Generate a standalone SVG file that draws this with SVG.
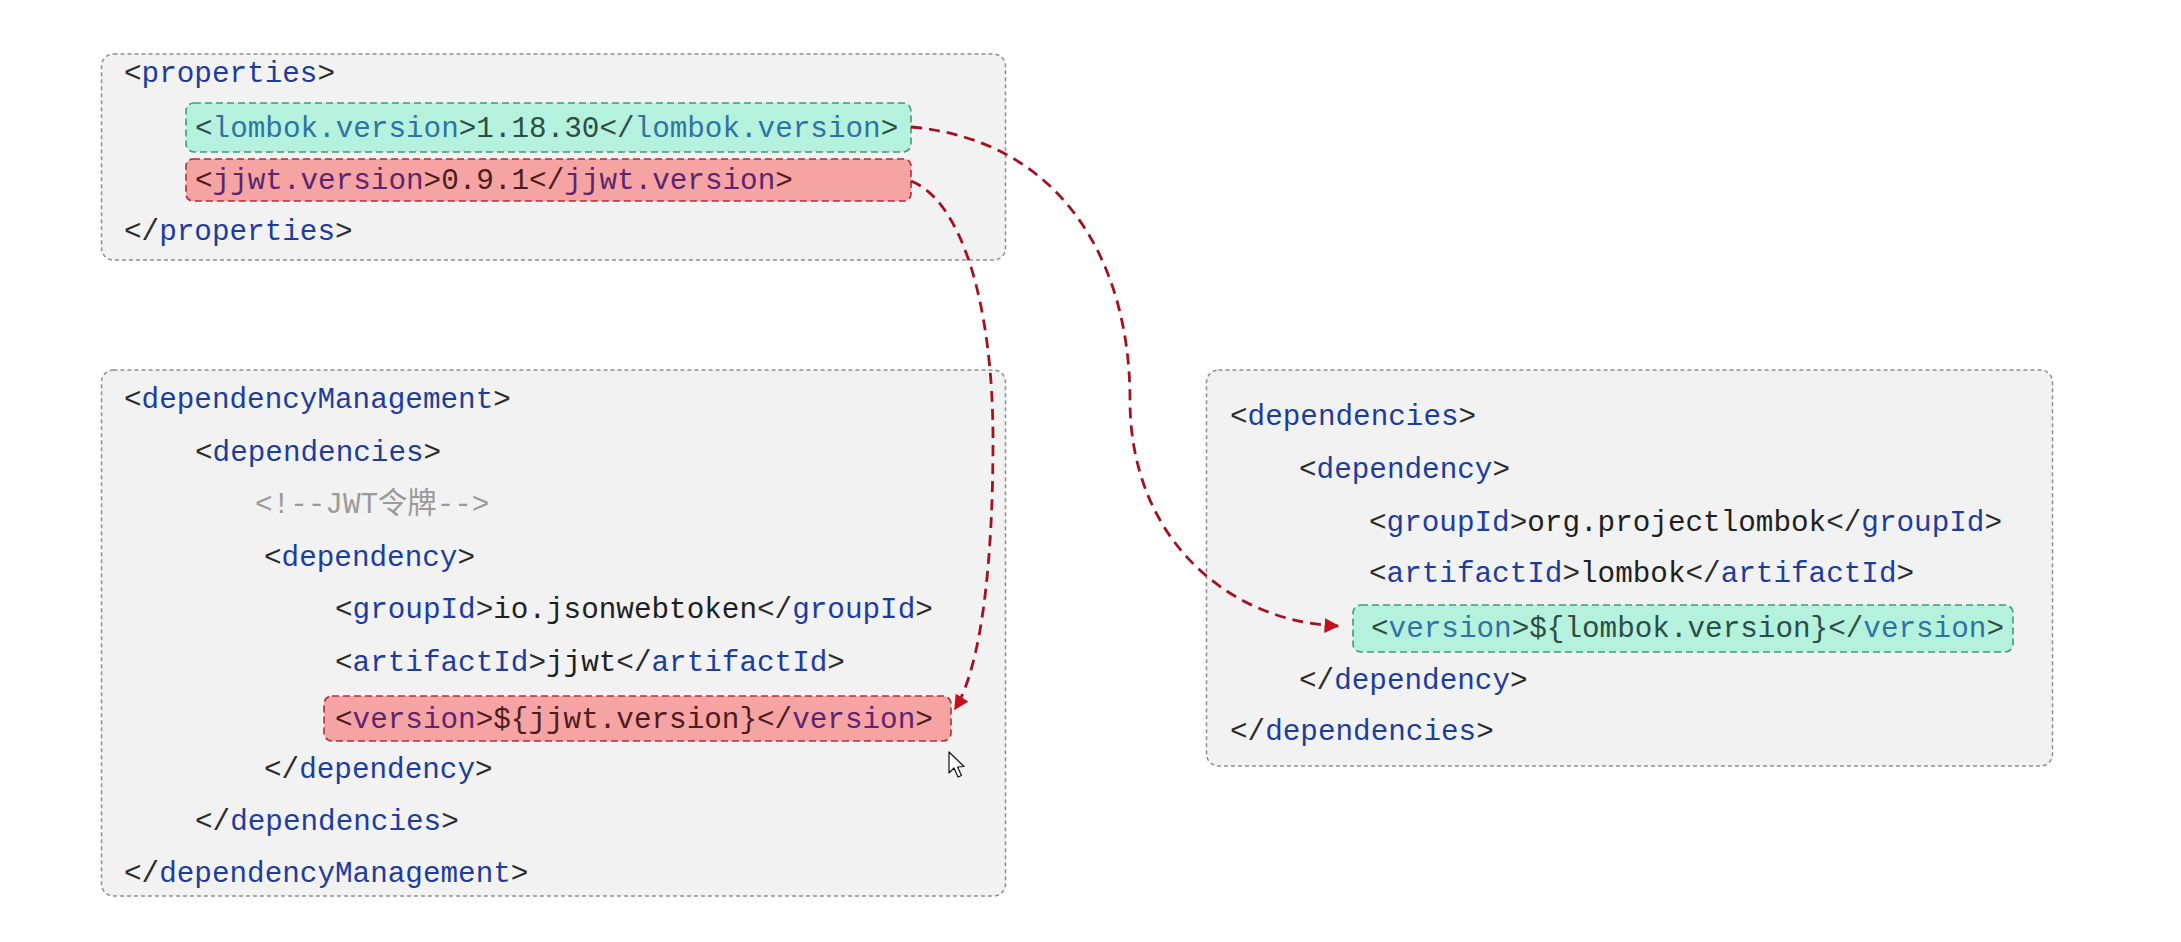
<svg xmlns="http://www.w3.org/2000/svg" width="2181" height="942" viewBox="0 0 2181 942">
<style>
text{font-family:"Liberation Mono","Noto Sans CJK SC",monospace;font-size:29.3px;fill:#2b2b2b}
.box{fill:#f2f2f2;stroke:#8e8e8e;stroke-width:1.5;stroke-dasharray:4 3}
.hg{fill:#b5f2de;stroke:#3f9c73;stroke-width:1.6;stroke-dasharray:7 4}
.hr{fill:#f5a3a3;stroke:#a8323b;stroke-width:1.6;stroke-dasharray:7 4}
.t{fill:#1d3d9e}
.v{fill:#1f1f1f}
.g{fill:#2e4d44}
.gt{fill:#2f73a3}
.r{fill:#4d1c1c}
.rt{fill:#5b2572}
.cm{fill:#9a9a9a}
.conn{fill:none;stroke:#a4121f;stroke-width:2.8;stroke-dasharray:11 7}
</style>
<defs>
<marker id="ah2" viewBox="0 0 10 10" refX="9" refY="5" markerWidth="15" markerHeight="15" markerUnits="userSpaceOnUse" orient="auto">
<path d="M0,0 L10,5 L0,10 z" fill="#c4101c"/>
</marker>
</defs>

<g id="properties">
<rect class="box" x="101.5" y="54" width="904" height="206" rx="12"/>
<text x="124" y="82">&lt;<tspan class="t">properties</tspan>&gt;</text>
<rect class="hg" x="186" y="103" width="725" height="49" rx="8"/>
<text x="195" y="137" class="g"><tspan class="g">&lt;</tspan><tspan class="gt">lombok.version</tspan><tspan class="g">&gt;1.18.30&lt;/</tspan><tspan class="gt">lombok.version</tspan><tspan class="g">&gt;</tspan></text>
<rect class="hr" x="186" y="159" width="725" height="42" rx="7"/>
<text x="195" y="189"><tspan class="r">&lt;</tspan><tspan class="rt">jjwt.version</tspan><tspan class="r">&gt;0.9.1&lt;/</tspan><tspan class="rt">jjwt.version</tspan><tspan class="r">&gt;</tspan></text>
<text x="124" y="240">&lt;/<tspan class="t">properties</tspan>&gt;</text>
</g>

<g id="dependencyManagement">
<rect class="box" x="101.5" y="370" width="904" height="526" rx="12"/>
<text x="124" y="408">&lt;<tspan class="t">dependencyManagement</tspan>&gt;</text>
<text x="195" y="461">&lt;<tspan class="t">dependencies</tspan>&gt;</text>
<text x="255" y="513" class="cm">&lt;!--JWT令牌--&gt;</text>
<text x="264" y="566">&lt;<tspan class="t">dependency</tspan>&gt;</text>
<text x="335" y="618">&lt;<tspan class="t">groupId</tspan>&gt;<tspan class="v">io.jsonwebtoken</tspan>&lt;/<tspan class="t">groupId</tspan>&gt;</text>
<text x="335" y="671">&lt;<tspan class="t">artifactId</tspan>&gt;<tspan class="v">jjwt</tspan>&lt;/<tspan class="t">artifactId</tspan>&gt;</text>
<rect class="hr" x="324" y="696" width="627" height="45" rx="8"/>
<text x="335" y="728"><tspan class="r">&lt;</tspan><tspan class="rt">version</tspan><tspan class="r">&gt;${jjwt.version}&lt;/</tspan><tspan class="rt">version</tspan><tspan class="r">&gt;</tspan></text>
<text x="264" y="778">&lt;/<tspan class="t">dependency</tspan>&gt;</text>
<text x="195" y="830">&lt;/<tspan class="t">dependencies</tspan>&gt;</text>
<text x="124" y="882">&lt;/<tspan class="t">dependencyManagement</tspan>&gt;</text>
</g>

<g id="dependencies">
<rect class="box" x="1206.5" y="370" width="846" height="396" rx="12"/>
<text x="1230" y="425">&lt;<tspan class="t">dependencies</tspan>&gt;</text>
<text x="1299" y="478">&lt;<tspan class="t">dependency</tspan>&gt;</text>
<text x="1369" y="531">&lt;<tspan class="t">groupId</tspan>&gt;<tspan class="v">org.projectlombok</tspan>&lt;/<tspan class="t">groupId</tspan>&gt;</text>
<text x="1369" y="582">&lt;<tspan class="t">artifactId</tspan>&gt;<tspan class="v">lombok</tspan>&lt;/<tspan class="t">artifactId</tspan>&gt;</text>
<rect class="hg" x="1353" y="605" width="660" height="47" rx="8"/>
<text x="1371" y="637"><tspan class="g">&lt;</tspan><tspan class="gt">version</tspan><tspan class="g">&gt;${lombok.version}&lt;/</tspan><tspan class="gt">version</tspan><tspan class="g">&gt;</tspan></text>
<text x="1299" y="689">&lt;/<tspan class="t">dependency</tspan>&gt;</text>
<text x="1230" y="740">&lt;/<tspan class="t">dependencies</tspan>&gt;</text>
</g>

<g id="connectors">
<path class="conn" d="M911,127 C1060,140 1130,260 1130,400 C1130,540 1230,622 1338,626" marker-end="url(#ah2)"/>
<path class="conn" d="M911,181 C960,200 993,300 993,440 C993,560 982,665 955,709" marker-end="url(#ah2)"/>
</g>

<g id="cursor">
<path d="M949,752 L949,773 L954,768 L958,777 L961.5,775.5 L957.5,767 L964,766.5 Z" fill="#ffffff" stroke="#111111" stroke-width="1.2" stroke-linejoin="round"/>
</g>
</svg>
